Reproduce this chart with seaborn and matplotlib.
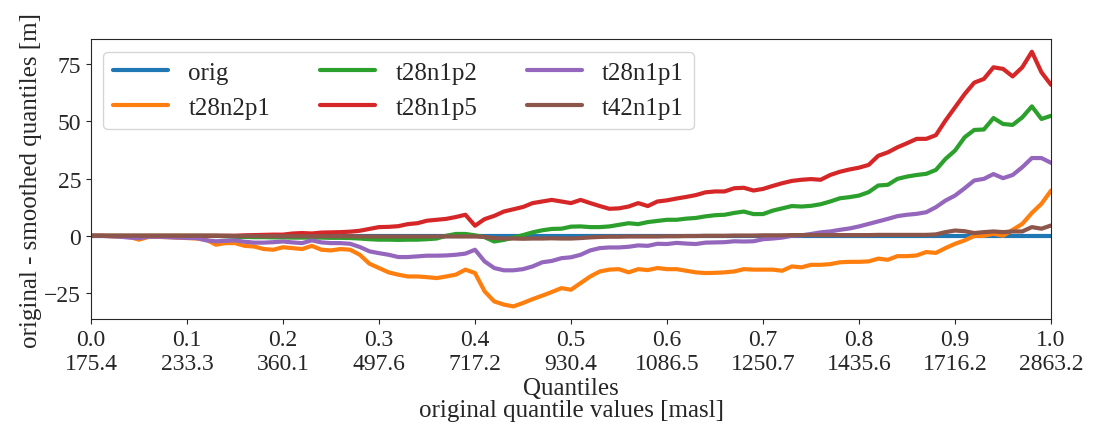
import numpy as np
import pandas as pd
import matplotlib
matplotlib.use("Agg")
import matplotlib.pyplot as plt
import seaborn as sns

# quantile levels and the original quantile values (second tick row)
quantiles = np.round(np.arange(101) / 100, 2)
tick_q = [0.0, 0.1, 0.2, 0.3, 0.4, 0.5, 0.6, 0.7, 0.8, 0.9, 1.0]
tick_vals = ['175.4', '233.3', '360.1', '497.6', '717.2', '930.4',
             '1086.5', '1250.7', '1435.6', '1716.2', '2863.2']

runs = ['orig', 't28n2p1', 't28n1p2', 't28n1p5', 't28n1p1', 't42n1p1']

orig = [0.0] * 101

t28n2p1 = [0, 0, -0.2, -0.4, -0.5, -1.7, -0.5, -0.5, -0.6, -0.8,
           -1.0, -1.2, -1.7, -3.9, -3.2, -3.2, -4.4, -4.7, -5.8, -6.1,
           -5.0, -5.4, -5.8, -4.4, -6.1, -6.4, -5.8, -6.1, -8.3, -12.2,
           -14.1, -16.0, -17.0, -17.8, -17.8, -18.1, -18.5, -17.8, -17.0, -14.8,
           -16.3, -24.3, -28.7, -30.1, -30.9, -29.4, -27.7, -26.2, -24.6, -22.9,
           -23.6, -20.7, -17.8, -15.6, -14.8, -14.6, -16.0, -14.6, -15.0, -14.1,
           -14.6, -14.6, -15.3, -16.0, -16.3, -16.2, -16.0, -15.6, -14.6, -14.8,
           -14.8, -14.8, -15.3, -13.4, -13.8, -12.7, -12.7, -12.4, -11.6, -11.4,
           -11.4, -11.2, -10.0, -10.5, -8.9, -8.9, -8.6, -7.1, -7.5, -5.4,
           -3.5, -2.0, -0.1, 0.0, 0.9, 0.0, 2.6, 5.2, 10.0, 14.0,
           19.8]

t28n1p2 = [0, 0, 0, 0, 0, 0, 0, 0, 0, 0,
           0, 0, 0, 0, -0.2, -0.5, -0.5, -0.6, -0.6, -0.7,
           -0.7, -0.8, -0.8, -0.8, -0.8, -0.9, -0.9, -1.0, -1.2, -1.5,
           -1.7, -1.7, -1.8, -1.7, -1.7, -1.5, -1.2, 0.0, 0.8, 0.8,
           0.2, -0.6, -2.5, -1.8, -0.8, 0.3, 1.5, 2.4, 3.0, 3.1,
           4.0, 4.1, 3.8, 3.8, 4.1, 4.8, 5.5, 5.1, 6.0, 6.5,
           7.0, 7.0, 7.5, 7.8, 8.5, 9.0, 9.2, 10.0, 10.6, 9.5,
           9.5, 11.0, 12.0, 13.0, 12.8, 13.1, 13.8, 15.0, 16.4, 16.9,
           17.6, 19.1, 22.0, 22.3, 24.9, 25.9, 26.6, 27.1, 28.8, 33.6,
           37.3, 43.1, 46.3, 46.5, 51.5, 48.9, 48.5, 51.8, 56.6, 51.1,
           52.5]

t28n1p5 = [0, 0, 0, 0, 0, 0, 0, 0, 0, 0,
           0, 0, 0, 0, 0, 0, 0.2, 0.3, 0.4, 0.5,
           0.5, 1.0, 1.2, 1.0, 1.4, 1.5, 1.6, 1.8, 2.2, 3.0,
           3.8, 3.9, 4.2, 5.1, 5.5, 6.6, 7.0, 7.4, 8.2, 9.2,
           4.4, 7.3, 8.7, 10.6, 11.6, 12.6, 14.3, 15.0, 15.7, 15.0,
           14.3, 15.7, 14.3, 13.0, 11.8, 12.0, 12.8, 14.3, 13.0, 15.0,
           15.5, 16.3, 17.0, 17.8, 19.0, 19.4, 19.4, 20.8, 21.0, 19.8,
           20.5, 21.8, 23.0, 24.0, 24.5, 24.8, 24.5, 26.6, 28.0, 29.0,
           29.8, 31.0, 35.0, 36.5, 38.7, 40.5, 42.4, 42.4, 44.0, 50.4,
           56.2, 62.0, 67.0, 68.6, 73.7, 73.0, 69.7, 73.7, 80.5, 71.5,
           66.0]

t28n1p1 = [0, 0, -0.2, -0.4, -0.8, -1.0, -0.4, -0.4, -0.6, -0.8,
           -0.9, -1.0, -2.0, -2.4, -2.2, -2.0, -2.6, -3.0, -3.0, -2.8,
           -2.5, -2.9, -3.2, -2.0, -2.9, -3.2, -3.2, -3.5, -4.9, -6.8,
           -7.6, -8.3, -9.3, -9.3, -9.0, -8.7, -8.7, -8.6, -8.3, -7.8,
           -6.1, -11.2, -14.1, -15.1, -15.1, -14.6, -13.4, -11.6, -11.0, -9.8,
           -9.4, -8.3, -6.4, -5.4, -5.1, -5.1, -4.8, -4.2, -4.4, -3.5,
           -3.6, -3.1, -3.4, -3.6, -3.0, -2.9, -2.8, -2.4, -2.5, -2.4,
           -1.5, -1.2, -0.8, 0.0, 0.2, 0.8, 1.5, 1.9, 2.6, 3.2,
           4.1, 5.2, 6.3, 7.4, 8.6, 9.2, 9.6, 10.3, 12.5, 15.4,
           17.6, 20.8, 24.2, 24.9, 27.0, 25.2, 26.6, 30.0, 34.0, 34.0,
           31.9]

t42n1p1 = [0, 0, 0, 0, 0, 0, 0, 0, 0, 0,
           0, 0, 0, 0, 0, -0.1, -0.1, -0.1, -0.2, -0.2,
           -0.2, -0.2, -0.2, -0.2, -0.2, -0.2, -0.2, -0.2, -0.3, -0.3,
           -0.3, -0.3, -0.3, -0.3, -0.3, -0.3, -0.3, -0.3, -0.3, -0.3,
           -0.3, -0.5, -1.0, -1.2, -1.2, -1.3, -1.2, -1.2, -1.1, -1.2,
           -1.2, -1.0, -0.7, -0.5, -0.4, -0.4, -0.3, -0.3, -0.3, -0.3,
           -0.2, -0.2, -0.1, -0.1, 0.0, 0.0, 0.0, 0.1, 0.1, 0.1,
           0.2, 0.2, 0.2, 0.3, 0.3, 0.3, 0.3, 0.3, 0.3, 0.3,
           0.3, 0.3, 0.4, 0.4, 0.4, 0.4, 0.4, 0.4, 0.6, 1.6,
           2.3, 2.0, 1.2, 1.6, 1.9, 1.6, 1.9, 1.9, 3.8, 3.1,
           4.5]

series = [orig, t28n2p1, t28n1p2, t28n1p5, t28n1p1, t42n1p1]
df = pd.DataFrame({
    'quantile': np.tile(quantiles, len(runs)),
    'diff': np.concatenate(series),
    'run': np.repeat(runs, len(quantiles)),
})

sns.set_style("ticks")
plt.rcParams['font.family'] = ['Liberation Serif', 'DejaVu Serif']
plt.rcParams['font.size'] = 17

fig, ax = plt.subplots(figsize=(10.96, 4.35), dpi=100)
sns.lineplot(data=df, x='quantile', y='diff', hue='run', hue_order=runs,
             palette='tab10', linewidth=3, ax=ax)

ax.set_xlim(0, 1)
ax.set_xticks(tick_q)
ax.set_xticklabels([f"{q:.1f}\n{v}" for q, v in zip(tick_q, tick_vals)],
                   linespacing=1.2)
ax.tick_params(labelsize=17)
ax.set_xlabel("Quantiles\noriginal quantile values [masl]", fontsize=18,
              linespacing=1.0, labelpad=2)
ax.set_ylabel("original - smoothed quantiles [m]", fontsize=18, labelpad=2)
ax.legend(ncol=3, loc='upper left', frameon=True, fontsize=18,
          handlelength=2.2)

fig.subplots_adjust(left=0.083, right=0.959, top=0.908, bottom=0.264)
plt.savefig('out.png')
